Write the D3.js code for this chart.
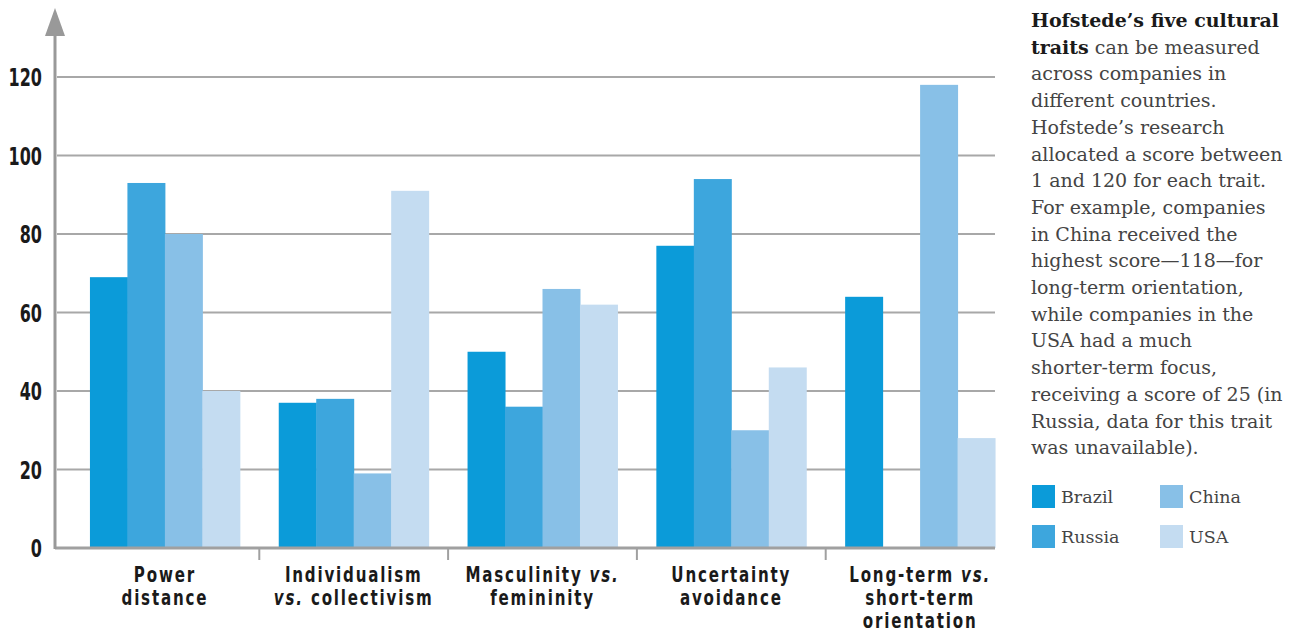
<!DOCTYPE html>
<html>
<head>
<meta charset="utf-8">
<script src="https://cdn.jsdelivr.net/npm/d3@7"></script>
<style>
  body { margin: 0; background: #fff; }
</style>
</head>
<body>
<div id="chart"></div>
<script>
// chart data
const categories = ["Power distance", "Individualism vs. collectivism", "Masculinity vs. femininity",
  "Uncertainty avoidance", "Long-term vs. short-term orientation"];
const countries = ["Brazil", "Russia", "China", "USA"];
const brazil = [69, 37, 50, 77, 64];
const russia = [93, 38, 36, 94, null];
const china  = [80, 19, 66, 30, 118];
const usa    = [40, 91, 62, 46, 28];
const yTicks = [0, 20, 40, 60, 80, 100, 120];

// label lines (vs. is set in italic)
const catLines = [
  [["Power"], ["distance"]],
  [["Individualism"], ["vs.", ". collectivism"]],
  [["Masculinity ", "vs."], ["femininity"]],
  [["Uncertainty"], ["avoidance"]],
  [["Long-term ", "vs."], ["short-term"], ["orientation"]]
];

const noteLines = [
  [["Hofstede\u2019s five cultural", true]],
  [["traits", true], [" can be measured", false]],
  [["across companies in", false]],
  [["different countries.", false]],
  [["Hofstede\u2019s research", false]],
  [["allocated a score between", false]],
  [["1 and 120 for each trait.", false]],
  [["For example, companies", false]],
  [["in China received the", false]],
  [["highest score\u2014118\u2014for", false]],
  [["long-term orientation,", false]],
  [["while companies in the", false]],
  [["USA had a much", false]],
  [["shorter-term focus,", false]],
  [["receiving a score of 25 (in", false]],
  [["Russia, data for this trait", false]],
  [["was unavailable).", false]]
];

const colors = ["#0b9bd9", "#3da6dd", "#88c0e7", "#c4dcf1"];

const width = 1309, height = 635;
const svg = d3.select("#chart").append("svg")
  .attr("width", width)
  .attr("height", height);

const series = [brazil, russia, china, usa];
const rows = categories.map((c, i) => ({
  cat: c,
  vals: countries.map((k, j) => ({ key: k, value: series[j][i] }))
}));

const x0 = d3.scaleBand()
  .domain(categories)
  .range([70.5, 1014.5])
  .paddingInner(0.206)
  .paddingOuter(0.103);

const x1 = d3.scaleBand()
  .domain(countries)
  .range([0, x0.bandwidth()]);

const y = d3.scaleLinear()
  .domain([0, 120])
  .range([548, 77]);

const color = d3.scaleOrdinal().domain(countries).range(colors);

// no narrow font installed, so bold sans is squeezed with scaleX
const numFont = "'DejaVu Sans', sans-serif";
const serif = "'DejaVu Serif', serif";

// gridlines
svg.append("g")
  .selectAll("line")
  .data(yTicks)
  .join("line")
  .attr("x1", 57)
  .attr("x2", 995)
  .attr("y1", d => y(d))
  .attr("y2", d => y(d))
  .attr("stroke", "#a8a8a8")
  .attr("stroke-width", 2);

// bars
svg.append("g")
  .selectAll("g")
  .data(rows)
  .join("g")
  .attr("transform", d => `translate(${x0(d.cat)},0)`)
  .selectAll("rect")
  .data(d => d.vals.filter(v => v.value != null))
  .join("rect")
  .attr("x", d => x1(d.key))
  .attr("width", x1.bandwidth() + 0.5)
  .attr("y", d => y(d.value))
  .attr("height", d => y(0) - y(d.value))
  .attr("fill", d => color(d.key));

// baseline
svg.append("line")
  .attr("x1", 55).attr("x2", 995)
  .attr("y1", y(0)).attr("y2", y(0))
  .attr("stroke", "#a0a0a0")
  .attr("stroke-width", 3);

// separator ticks between groups
const seps = categories.slice(1).map((c, i) =>
  (x0(categories[i]) + x0.bandwidth() + x0(c)) / 2);
svg.append("g")
  .selectAll("line")
  .data(seps)
  .join("line")
  .attr("x1", d => d).attr("x2", d => d)
  .attr("y1", y(0)).attr("y2", y(0) + 12)
  .attr("stroke", "#a0a0a0")
  .attr("stroke-width", 2);

// y axis with arrow
svg.append("line")
  .attr("x1", 55).attr("x2", 55)
  .attr("y1", y(0) + 1).attr("y2", 30)
  .attr("stroke", "#999")
  .attr("stroke-width", 3);
svg.append("path")
  .attr("d", "M55,8 L65,36 L45,36 Z")
  .attr("fill", "#999");

// y tick labels
svg.append("g")
  .selectAll("text")
  .data(yTicks)
  .join("text")
  .attr("transform", d => `translate(42,${y(d)}) scale(0.64,1)`)
  .attr("dy", "0.36em")
  .attr("text-anchor", "end")
  .style("font-family", numFont)
  .style("font-weight", "bold")
  .style("font-size", "25px")
  .attr("fill", "#1a1a1a")
  .text(d => d);

// category labels
const catG = svg.append("g");
categories.forEach((c, i) => {
  const cx = x0(c) + x0.bandwidth() / 2;
  catLines[i].forEach((line, li) => {
    const t = catG.append("text")
      .attr("transform", `translate(${cx},${582 + li * 23}) scale(0.72,1)`)
      .attr("text-anchor", "middle")
      .style("font-family", numFont)
      .style("font-weight", "bold")
      .style("font-size", "21px")
      .style("letter-spacing", "2.5px")
      .attr("fill", "#1a1a1a");
    line.forEach(part => {
      if (part === "vs.") {
        t.append("tspan").style("font-style", "italic").text("vs.");
      } else if (part.startsWith(". ")) {
        t.append("tspan").text(part.slice(1));
      } else {
        t.append("tspan").text(part);
      }
    });
  });
});

// note text
const note = svg.append("g")
  .style("font-family", serif)
  .style("font-size", "19px");
noteLines.forEach((line, i) => {
  const t = note.append("text")
    .attr("x", 1031)
    .attr("y", 27 + i * 26.7)
    .attr("fill", "#444");
  line.forEach(([s, b]) => {
    t.append("tspan")
      .style("font-weight", b ? "bold" : "normal")
      .attr("fill", b ? "#1a1a1a" : "#444")
      .text(s);
  });
});

// legend
const legendPos = [[1032, 485], [1032, 525], [1160, 485], [1160, 525]];
const legend = svg.append("g")
  .selectAll("g")
  .data(countries)
  .join("g")
  .attr("transform", (d, i) => `translate(${legendPos[i][0]},${legendPos[i][1]})`);
legend.append("rect")
  .attr("width", 23)
  .attr("height", 23)
  .attr("fill", d => color(d));
legend.append("text")
  .attr("x", 29)
  .attr("y", 18)
  .style("font-family", serif)
  .style("font-size", "17.5px")
  .attr("fill", "#444")
  .text(d => d);
</script>
</body>
</html>
